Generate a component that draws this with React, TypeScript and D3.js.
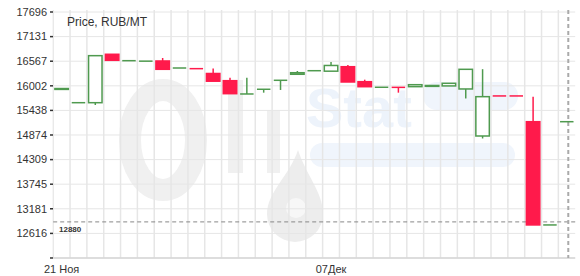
import React from 'react';
import * as d3 from 'd3';

const dates: string[] = [
  '2023-11-21', '2023-11-22', '2023-11-23', '2023-11-24', '2023-11-25', '2023-11-26',
  '2023-11-27', '2023-11-28', '2023-11-29', '2023-11-30', '2023-12-01', '2023-12-02',
  '2023-12-03', '2023-12-04', '2023-12-05', '2023-12-06', '2023-12-07', '2023-12-08',
  '2023-12-09', '2023-12-10', '2023-12-11', '2023-12-12', '2023-12-13', '2023-12-14',
  '2023-12-15', '2023-12-16', '2023-12-17', '2023-12-18', '2023-12-19', '2023-12-20',
  '2023-12-21',
];
const openVals: number[] = [
  15920, 15615, 15615, 16726, 16579, 16568, 16572, 16411, 16396, 16285, 16120, 15815,
  15923, 16129, 16267, 16349, 16338, 16441, 16097, 15969, 15967, 15983, 15990, 16000,
  15930, 14851, 15770, 15770, 15179, 12810, 15179,
];
const highVals: number[] = [
  15940, 15615, 16694, 16726, 16579, 16568, 16641, 16411, 16396, 16400, 16189, 16190,
  15923, 16129, 16342, 16349, 16549, 16480, 16143, 15969, 15967, 16028, 16010, 16060,
  16381, 16384, 15770, 15770, 15753, 12810, 15179,
];
const lowVals: number[] = [
  15920, 15615, 15562, 16588, 16579, 16568, 16381, 16411, 16394, 16108, 15822, 15815,
  15845, 15907, 16267, 16349, 16338, 16090, 15982, 15969, 15845, 15983, 15990, 16000,
  15712, 14794, 15768, 15768, 12810, 12810, 15179,
];
const closeVals: number[] = [
  15940, 15615, 16694, 16588, 16579, 16568, 16381, 16411, 16394, 16108, 15822, 15815,
  15923, 16129, 16303, 16349, 16469, 16090, 15982, 15969, 15963, 16028, 16010, 16060,
  16381, 15753, 15768, 15768, 12810, 12810, 15179,
];

const yTickValues: number[] = [17696, 17131, 16567, 16002, 15438, 14874, 14309, 13745, 13181, 12616, 12052];
const yTickLabels: string[] = ['17696', '17131', '16567', '16002', '15438', '14874', '14309', '13745', '13181', '12616', ''];
const xTickDates: string[] = ['2023-11-21', '2023-12-07'];
const xTickLabels: string[] = ['21 Ноя', '07Дек'];
const referenceValue = 12880;
const referenceLabel = '12880';
const markerDate = '2023-12-21';
const title = 'Price, RUB/MT';

const W = 580;
const H = 276;
const left = 53.2;
const right = 575.2;
const top = 12;
const bottom = 258;

const GREEN = '#4f9a4f';
const RED = '#ff1a4b';
const FONT = '"Liberation Sans", Arial, sans-serif';

export default function App() {
  const x = d3.scaleBand<string>().domain(dates).range([left, right]).padding(0);
  const y = d3.scaleLinear().domain([12051.6, 17696]).range([bottom, top]);
  const step = x.step();
  const bw = step * 0.8;

  const candles = dates.map((d, i) => ({
    d,
    o: openVals[i],
    h: highVals[i],
    l: lowVals[i],
    c: closeVals[i],
  }));

  const refY = y(referenceValue);
  const markerX = (x(markerDate) as number) + step / 2 + 1.5;

  return (
    <svg width={W} height={H} style={{ position: 'absolute', left: 0, top: 0, background: '#fff' }} fontFamily={FONT}>
      {/* watermark */}
      <g>
        <ellipse cx={163} cy={140} rx={33} ry={50} fill="none" stroke="#f0f0f0" strokeWidth={22} />
        <rect x={228} y={80} width={15} height={93} fill="#f0f0f0" />
        <rect x={267} y={110} width={13} height={63} fill="#f0f0f0" />
        <path d="M298,150 C290,175 267,192 267,214 A28,28 0 0 0 323,214 C323,192 306,175 298,150 Z" fill="#ededed" />
        <circle cx={296} cy={208} r={10} fill="#f7f7f7" />
        <text x={306} y={127} fontSize={56} fontWeight="bold" fill="#edf3fb">Stat</text>
        <rect x={423} y={82} width={95} height={28} rx={14} fill="#f0f5fc" />
        <rect x={310} y={143} width={205} height={24} rx={12} fill="#f0f5fc" />
      </g>

      {/* horizontal gridlines */}
      {yTickValues.map((v) => (
        <line key={'hg' + v} x1={left} x2={right} y1={y(v)} y2={y(v)} stroke="#e6e6e6" strokeWidth={1} />
      ))}
      {/* vertical gridlines */}
      {dates.slice(1).map((d) => (
        <line key={'vg' + d} x1={x(d) as number} x2={x(d) as number} y1={top - 2} y2={bottom} stroke="#e6e6e6" strokeWidth={1.5} />
      ))}
      {/* axes lines */}
      <line x1={left} x2={left} y1={top - 2} y2={bottom} stroke="#e0e0e0" strokeWidth={1} />
      <line x1={left} x2={right} y1={bottom} y2={bottom} stroke="#d6d6d6" strokeWidth={1.5} />

      {/* y ticks */}
      {yTickValues.map((v, i) => (
        <g key={'yt' + v}>
          <line x1={50} x2={53} y1={y(v)} y2={y(v)} stroke="#333" strokeWidth={1.5} />
          <text x={47} y={y(v)} dy="0.35em" textAnchor="end" fontSize={11} fill="#333">{yTickLabels[i]}</text>
        </g>
      ))}
      {/* x ticks */}
      {xTickDates.map((d, i) => (
        <text key={'xt' + d} x={(x(d) as number) + step / 2} y={273} textAnchor="middle" fontSize={11} fill="#333">{xTickLabels[i]}</text>
      ))}

      {/* reference line */}
      <line x1={left} x2={right} y1={refY} y2={refY} stroke="#888" strokeWidth={1} strokeDasharray="4,3" />
      <text x={59} y={refY + 10} fontSize={8} fontWeight="bold" fill="#333">{referenceLabel}</text>
      {/* vertical marker */}
      <line x1={markerX} x2={markerX} y1={top - 2} y2={bottom} stroke="#aaa" strokeWidth={2} strokeDasharray="4,3" />

      {/* candles */}
      {candles.map((k) => {
        const cx = (x(k.d) as number) + step / 2;
        const up = k.c >= k.o;
        const col = up ? GREEN : RED;
        const yTop = y(Math.max(k.o, k.c));
        const yBot = y(Math.min(k.o, k.c));
        const hgt = yBot - yTop;
        return (
          <g key={'c' + k.d}>
            {y(k.h) < yTop && <line x1={cx} x2={cx} y1={y(k.h)} y2={yTop} stroke={col} strokeWidth={1.5} />}
            {y(k.l) > yBot && <line x1={cx} x2={cx} y1={yBot} y2={y(k.l)} stroke={col} strokeWidth={1.5} />}
            {hgt < 0.3 ? (
              <line x1={cx - bw / 2} x2={cx + bw / 2} y1={yTop} y2={yTop} stroke={col} strokeWidth={1.5} />
            ) : (
              <rect x={cx - bw / 2} y={yTop} width={bw} height={hgt} fill={up ? '#fff' : RED} stroke={col} strokeWidth={1.5} />
            )}
          </g>
        );
      })}

      {/* title */}
      <text x={67} y={26} fontSize={12} fill="#333">{title}</text>
    </svg>
  );
}
